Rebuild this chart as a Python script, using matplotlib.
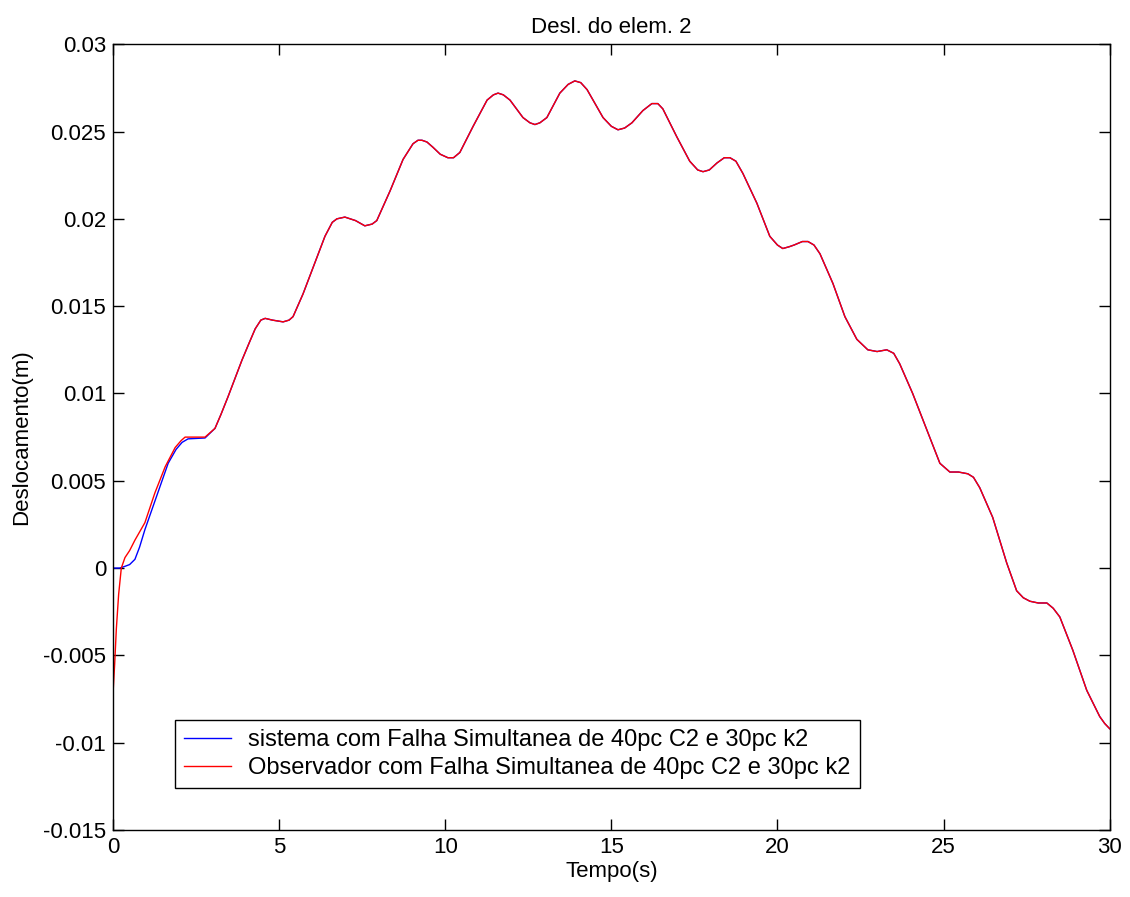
import matplotlib
matplotlib.use('Agg')
import matplotlib.pyplot as plt
from matplotlib.ticker import FormatStrFormatter

plt.rcParams['font.family'] = ['Liberation Sans', 'DejaVu Sans']

# shared part of both curves (t >= 3 s)
t_common = [3.07, 3.25, 3.46, 3.88, 4.10, 4.28, 4.45, 4.58, 4.80, 5.12, 5.30, 5.42, 5.72,
            6.02, 6.38, 6.60, 6.74, 6.98, 7.30, 7.58, 7.80, 7.94, 8.34, 8.73, 9.03, 9.18,
            9.30, 9.45, 9.63, 9.85, 10.08, 10.25, 10.44, 10.84, 11.26, 11.45, 11.59, 11.75,
            11.95, 12.34, 12.55, 12.70, 12.85, 13.06, 13.45, 13.70, 13.90, 14.08, 14.27,
            14.75, 15.00, 15.20, 15.40, 15.62, 15.95, 16.22, 16.40, 16.55, 16.97, 17.36,
            17.60, 17.76, 17.95, 18.18, 18.40, 18.57, 18.75, 18.96, 19.38, 19.77, 20.00,
            20.16, 20.35, 20.50, 20.75, 20.92, 21.10, 21.28, 21.67, 22.03, 22.39, 22.72,
            23.00, 23.29, 23.50, 23.68, 24.07, 24.50, 24.89, 25.19, 25.45, 25.73, 25.90,
            26.09, 26.48, 26.90, 27.20, 27.40, 27.60, 27.85, 28.11, 28.30, 28.50, 28.89,
            29.31, 29.70, 29.85, 30.0]
y_common = [0.0080, 0.0088, 0.0098, 0.0119, 0.0129, 0.0137, 0.0142, 0.0143, 0.0142, 0.0141,
            0.0142, 0.0144, 0.0157, 0.0172, 0.0190, 0.0198, 0.0200, 0.0201, 0.0199, 0.0196,
            0.0197, 0.0199, 0.0216, 0.0234, 0.0243, 0.0245, 0.0245, 0.0244, 0.0241, 0.0237,
            0.0235, 0.0235, 0.0238, 0.0253, 0.0268, 0.0271, 0.0272, 0.0271, 0.0268, 0.0258,
            0.0255, 0.0254, 0.0255, 0.0258, 0.0272, 0.0277, 0.0279, 0.0278, 0.0274, 0.0258,
            0.0253, 0.0251, 0.0252, 0.0255, 0.0262, 0.0266, 0.0266, 0.0263, 0.0247, 0.0233,
            0.0228, 0.0227, 0.0228, 0.0232, 0.0235, 0.0235, 0.0233, 0.0226, 0.0209, 0.0190,
            0.0185, 0.0183, 0.0184, 0.0185, 0.0187, 0.0187, 0.0185, 0.0180, 0.0163, 0.0144,
            0.0131, 0.0125, 0.0124, 0.0125, 0.0123, 0.0117, 0.0100, 0.0079, 0.0060, 0.0055,
            0.0055, 0.0054, 0.0052, 0.0046, 0.0029, 0.0003, -0.0013, -0.0017, -0.0019,
            -0.0020, -0.0020, -0.0023, -0.0028, -0.0047, -0.0070, -0.0085, -0.0089, -0.0092]

# start of each curve (t < 3 s)
t_sis0 = [0.0, 0.2, 0.36, 0.50, 0.66, 0.80, 0.96, 1.31, 1.66, 1.90, 2.08, 2.26, 2.77]
y_sis0 = [0.0, 0.0, 0.0001, 0.0002, 0.0005, 0.0012, 0.0022, 0.0041, 0.0060, 0.0068,
          0.0072, 0.0074, 0.00745]
t_obs0 = [0.0, 0.05, 0.10, 0.17, 0.25, 0.36, 0.50, 0.66, 0.96, 1.26, 1.57, 1.87, 2.05,
          2.17, 2.77]
y_obs0 = [-0.0072, -0.0055, -0.0035, -0.0015, 0.0, 0.0006, 0.0010, 0.0016, 0.0026, 0.0043,
          0.0058, 0.0069, 0.0073, 0.0075, 0.0075]

lbl_sis = 'sistema com Falha Simultanea de 40pc C2 e 30pc k2'
lbl_obs = 'Observador com Falha Simultanea de 40pc C2 e 30pc k2'

fig = plt.figure(figsize=(11.3, 8.97), dpi=100)
ax = fig.add_axes([0.1, 0.0747, 0.882, 0.876])

ax.plot(t_sis0 + t_common, y_sis0 + y_common, color='#0000ff', lw=1.0, label=lbl_sis)
ax.plot(t_obs0 + t_common, y_obs0 + y_common, color='#ff0000', lw=1.0, label=lbl_obs)

ax.set_xlim(0, 30)
ax.set_ylim(-0.015, 0.03)
ax.set_xticks([0, 5, 10, 15, 20, 25, 30])
ax.set_yticks([-0.015, -0.01, -0.005, 0, 0.005, 0.01, 0.015, 0.02, 0.025, 0.03])
ax.yaxis.set_major_formatter(FormatStrFormatter('%g'))
ax.tick_params(direction='in', length=8, width=1, labelsize=16, top=True, right=True, pad=5)
for s in ax.spines.values():
    s.set_linewidth(1.0)

ax.set_title('Desl. do elem. 2', fontsize=16, pad=8)
ax.set_xlabel('Tempo(s)', fontsize=16, labelpad=2)
ax.set_ylabel('Deslocamento(m)', fontsize=16, labelpad=8)

leg = ax.legend(loc='lower left', bbox_to_anchor=(0.062, 0.053), fontsize=17,
                fancybox=False, framealpha=1, edgecolor='black', handlelength=2.0,
                handletextpad=0.7, borderpad=0.4, labelspacing=0.25, borderaxespad=0)
leg.get_frame().set_linewidth(1.0)

fig.savefig('out.png', dpi=100)
